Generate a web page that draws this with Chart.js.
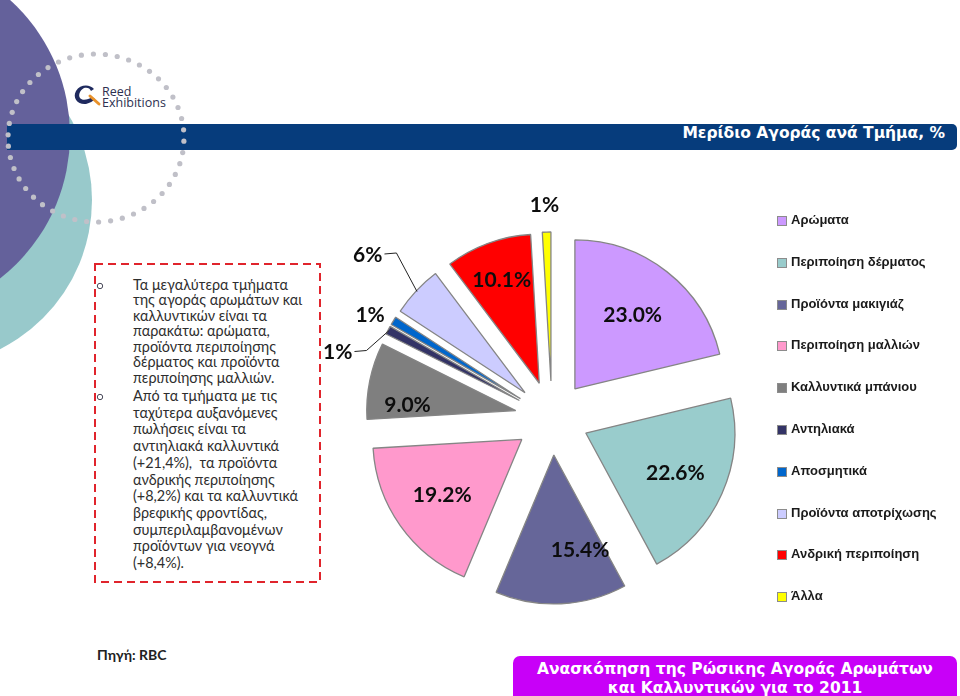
<!DOCTYPE html>
<html>
<head>
<meta charset="utf-8">
<script src="https://cdn.jsdelivr.net/npm/chart.js@4.4.0/dist/chart.umd.min.js"></script>
<style>
html,body{margin:0;padding:0;background:#fff;}
#slide{position:relative;width:960px;height:696px;overflow:hidden;background:#fff;}
.abs{position:absolute;}
#title{right:15px;top:124px;height:26px;line-height:26px;color:#fff;font:bold 15.5px "DejaVu Sans",sans-serif;white-space:nowrap;}
.para{left:133px;color:#2e2e2e;font:14.4px Lato,"Open Sans",sans-serif;white-space:nowrap;}
#legend .item{position:absolute;left:777px;height:14px;font:bold 13px "Liberation Sans",Arial,sans-serif;color:#1a1a1a;white-space:nowrap;}
#legend .sw{position:absolute;left:0;top:2px;width:8px;height:8px;border:1px solid #8c8c8c;}
#legend .tx{position:absolute;left:14px;top:-1px;line-height:14px;}
#source{left:97px;top:646px;font:bold 14px Lato,sans-serif;color:#222;}
#banner{left:513px;top:656px;width:444px;height:52px;border-radius:7px;background:#C800F8;color:#fff;text-align:center;font:bold 15.5px "DejaVu Sans",sans-serif;line-height:19px;padding-top:4px;box-sizing:border-box;}
#logo-t{left:102px;top:86px;font:12.5px "Open Sans",sans-serif;color:#2d3050;line-height:11px;}
</style>
</head>
<body>
<div id="slide">
  <svg class="abs" width="960" height="696" style="left:0;top:0">
    <circle cx="-75" cy="200" r="167" fill="#98C9CB"/>
    <circle cx="-112" cy="135" r="182" fill="#64619B"/>
    <path d="M7,124 H952 A5,5 0 0 1 957,129 V145 A5,5 0 0 1 952,150 H7 Z" fill="#063C7C"/>
    <g id="dots"></g>
    <rect x="95" y="264" width="225" height="318" fill="none" stroke="#E0242C" stroke-width="2" stroke-dasharray="8 5"/>
    <circle cx="100" cy="286" r="2.7" fill="none" stroke="#4a4a5a" stroke-width="1"/>
    <circle cx="100" cy="397" r="2.7" fill="none" stroke="#4a4a5a" stroke-width="1"/>
    <!-- logo mark -->
    <path d="M94,89 C90,84 80,84 76,91 C72,98 78,105 86,104 C90,103 93,101 95,99 L92,97 C88,100 82,101 80,98 C78,95 80,90 84,88 C87,87 90,88 91,91 Z" fill="#1f2a5e"/>
    <path d="M90,96 L99,104" stroke="#E8912A" stroke-width="3" stroke-linecap="round"/>
  </svg>
  <div id="logo-t" class="abs">Reed<br>Exhibitions</div>
  <div id="title" class="abs">Μερίδιο Αγοράς ανά Τμήμα, %</div>

  <div class="abs para" style="top:277px;line-height:15.45px;">Τα μεγαλύτερα τμήματα<br>της αγοράς αρωμάτων και<br>καλλυντικών είναι τα<br>παρακάτω: αρώματα,<br>προϊόντα περιποίησης<br>δέρματος και προϊόντα<br>περιποίησης μαλλιών.</div>
  <div class="abs para" style="top:388px;line-height:16.7px;">Από τα τμήματα με τις<br>ταχύτερα αυξανόμενες<br>πωλήσεις είναι τα<br>αντιηλιακά καλλυντικά<br>(+21,4%),&nbsp; τα προϊόντα<br>ανδρικής περιποίησης<br>(+8,2%) και τα καλλυντικά<br>βρεφικής φροντίδας,<br>συμπεριλαμβανομένων<br>προϊόντων για νεογνά<br>(+8,4%).</div>

  <canvas id="pie" class="abs" width="500" height="460" style="left:302px;top:188px;width:500px;height:460px;"></canvas>
  <div id="legend"></div>

  <div id="source" class="abs">Πηγή: RBC</div>
  <div id="banner" class="abs">Ανασκόπηση της Ρώσικης Αγοράς Αρωμάτων<br>και Καλλυντικών για το 2011</div>
</div>

<script>
// ---- data ----
const categories = ['Αρώματα','Περιποίηση δέρματος','Προϊόντα μακιγιάζ','Περιποίηση μαλλιών','Καλλυντικά μπάνιου','Αντηλιακά','Αποσμητικά','Προϊόντα αποτρίχωσης','Ανδρική περιποίηση','Άλλα'];
const shares = [23.0, 22.6, 15.4, 19.2, 9.0, 1, 1, 6, 10.1, 1];
const shareLabels = ['23.0%','22.6%','15.4%','19.2%','9.0%','1%','1%','6%','10.1%','1%'];
const colors = ['#CC99FF','#99CCCC','#666699','#FF99CC','#7F7F7F','#333366','#0066CC','#CCCCFF','#FF0000','#FFFF00'];

// ---- layout (not data) ----
const EXPLODE = 37;
const RADIUS = 149;
// label placement: polar angle (deg clockwise from 12 o'clock) and distance from pie centre
const labelLayout = [
  {deg:38, dist:131},{deg:114, dist:135},{deg:168, dist:135},{deg:235, dist:134},{deg:275, dist:145},
  {deg:287, dist:224, leader:true},{deg:299.5, dist:209},{deg:311.5, dist:246, leader:true},
  {deg:340, dist:147},{deg:358, dist:213}
];
const legendY0 = 221, legendStep = 41.8;

// dotted circle decoration
(function(){
  const g = document.getElementById('dots');
  const n = 46; let s='';
  for(let i=0;i<n;i++){
    const a = (i/n)*2*Math.PI - Math.PI/2 - 0.03;
    const x = 96 + 88*Math.cos(a), y = 138 + 84*Math.sin(a);
    s += `<circle cx="${x.toFixed(1)}" cy="${y.toFixed(1)}" r="2.6" fill="#C0C0C8"/>`;
  }
  g.innerHTML = s;
})();

// legend
(function(){
  const L = document.getElementById('legend');
  categories.forEach((c,i)=>{
    const d = document.createElement('div');
    d.className='item';
    d.style.top = (legendY0 + i*legendStep - 7) + 'px';
    d.innerHTML = `<span class="sw" style="background:${colors[i]}"></span><span class="tx">${c}</span>`;
    L.appendChild(d);
  });
})();

const explodePlugin = {
  id:'explode',
  afterDatasetUpdate(chart, args){
    const meta = chart.getDatasetMeta(args.index);
    meta.data.forEach(arc=>{
      const mid = (arc.startAngle + arc.endAngle)/2;
      arc.x += Math.cos(mid)*EXPLODE;
      arc.y += Math.sin(mid)*EXPLODE;
    });
  }
};

const labelPlugin = {
  id:'sliceLabels',
  afterDatasetsDraw(chart){
    const ctx = chart.ctx;
    const ca = chart.chartArea;
    const cx = (ca.left+ca.right)/2, cy = (ca.top+ca.bottom)/2;
    const meta = chart.getDatasetMeta(0);
    ctx.save();
    ctx.font = 'bold 21px Lato, "Open Sans", sans-serif';
    ctx.fillStyle = '#0d0d0d';
    ctx.textAlign = 'center';
    ctx.textBaseline = 'middle';
    meta.data.forEach((arc,i)=>{
      const p = labelLayout[i];
      const a = (p.deg - 90)*Math.PI/180;
      const lx = cx + Math.cos(a)*p.dist, ly = cy + Math.sin(a)*p.dist;
      ctx.fillText(shareLabels[i], lx, ly);
      if(p.leader){
        const w = ctx.measureText(shareLabels[i]).width;
        const mid = (arc.startAngle + arc.endAngle)/2;
        const rr = EXPLODE + arc.outerRadius - 1;
        const ex = cx + Math.cos(mid)*rr, ey = cy + Math.sin(mid)*rr;
        const sx = lx + w/2 + 2, sy = ly - 1;
        ctx.beginPath();
        ctx.strokeStyle = '#222';
        ctx.lineWidth = 1;
        ctx.moveTo(sx, sy);
        ctx.lineTo(sx + 12, sy - 1);
        ctx.lineTo(ex, ey);
        ctx.stroke();
      }
    });
    ctx.restore();
  }
};

new Chart(document.getElementById('pie'), {
  type:'pie',
  data:{
    labels: categories,
    datasets:[{
      data: shares,
      backgroundColor: colors,
      borderColor: '#858585',
      borderWidth: 1.3
    }]
  },
  options:{
    responsive:false,
    devicePixelRatio:1,
    animation:false,
    radius: RADIUS,
    layout:{padding:0},
    events:[],
    plugins:{legend:{display:false}, tooltip:{enabled:false}}
  },
  plugins:[explodePlugin, labelPlugin]
});
</script>
</body>
</html>
